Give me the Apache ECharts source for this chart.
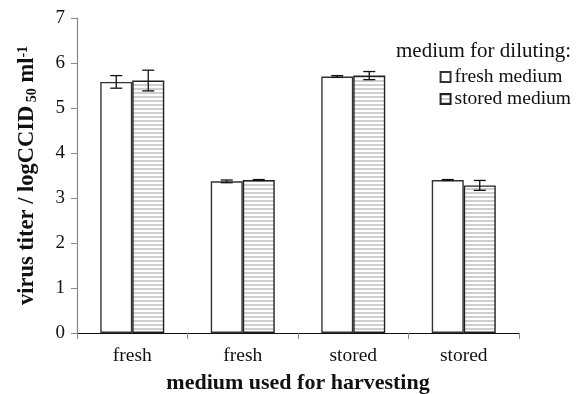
<!DOCTYPE html>
<html>
<head>
<meta charset="utf-8">
<script src="https://cdn.jsdelivr.net/npm/echarts@6/dist/echarts.min.js"></script>
<style>
  html, body { margin: 0; padding: 0; background: #fff; }
  #chart { width: 583px; height: 394px; }
</style>
</head>
<body>
<div id="chart"></div>
<script>
// Harvest medium groups and mean titers (log CCID50 / ml) with error-bar half-widths
const categories = ['fresh', 'fresh', 'stored', 'stored'];
const freshMedium = [5.58, 3.37, 5.70, 3.40];
const freshMediumErr = [0.14, 0.03, 0.02, 0.01];
const storedMedium = [5.61, 3.40, 5.72, 3.28];
const storedMediumErr = [0.23, 0.01, 0.09, 0.11];
const yTicks = [0, 1, 2, 3, 4, 5, 6, 7];

const FONT = "'Liberation Serif', 'Times New Roman', serif";
const BAR_W = 32;

// horizontal grey/white stripe fill for the stored-medium bars
const stripe = document.createElement('canvas');
stripe.width = 4; stripe.height = 4;
const sctx = stripe.getContext('2d');
sctx.fillStyle = '#ffffff'; sctx.fillRect(0, 0, 4, 4);
sctx.fillStyle = '#cfcfcf'; sctx.fillRect(0, 0, 4, 2);

function errorSeries(means, errs, side) {
  return {
    type: 'custom',
    silent: true,
    z: 5,
    data: means.map((m, i) => [i, m, errs[i]]),
    renderItem: function (params, api) {
      const i = api.value(0), m = api.value(1), e = api.value(2);
      const hi = api.coord([i, m + e]);
      const lo = api.coord([i, m - e]);
      const x = hi[0] + side * BAR_W / 2;
      const cap = 6;
      const style = { stroke: '#111', lineWidth: 1.3 };
      return {
        type: 'group',
        children: [
          { type: 'line', shape: { x1: x, y1: hi[1], x2: x, y2: lo[1] }, style },
          { type: 'line', shape: { x1: x - cap, y1: hi[1], x2: x + cap, y2: hi[1] }, style },
          { type: 'line', shape: { x1: x - cap, y1: lo[1], x2: x + cap, y2: lo[1] }, style }
        ]
      };
    }
  };
}

const chart = echarts.init(document.getElementById('chart'), null, { renderer: 'canvas' });
chart.setOption({
  animation: false,
  backgroundColor: '#fff',
  title: {
    text: 'medium for diluting:',
    right: 7,
    top: 36,
    textStyle: { fontFamily: FONT, fontSize: 21, fontWeight: 'normal', color: '#111' }
  },
  legend: {
    orient: 'vertical',
    right: 7,
    top: 62,
    itemWidth: 10,
    itemHeight: 10,
    itemGap: 2,
    icon: 'rect',
    textStyle: { fontFamily: FONT, fontSize: 19.5, color: '#111', padding: [0, 0, 0, -1] },
    data: ['fresh medium', 'stored medium']
  },
  grid: { left: 77, right: 64, top: 18, bottom: 61, outerBoundsMode: 'none' },
  xAxis: {
    type: 'category',
    data: categories,
    name: 'medium used for harvesting',
    nameLocation: 'middle',
    nameGap: 39,
    nameTextStyle: { fontFamily: FONT, fontSize: 22, fontWeight: 'bold', color: '#111' },
    axisLine: { lineStyle: { color: '#111', width: 1 } },
    axisTick: { show: true, length: 6, lineStyle: { color: '#888' } },
    axisLabel: { fontFamily: FONT, fontSize: 19.5, color: '#111', margin: 13 }
  },
  yAxis: {
    type: 'value',
    min: yTicks[0],
    max: yTicks[yTicks.length - 1],
    interval: 1,
    name: '{a|virus titer / logCCID}{s| 50}{a| ml}{p|-1}',
    nameLocation: 'middle',
    nameRotate: 90,
    nameGap: 38,
    nameTextStyle: {
      fontFamily: FONT, fontWeight: 'bold', color: '#111',
      rich: {
        a: { fontFamily: FONT, fontSize: 22.5, fontWeight: 'bold', color: '#111' },
        s: { fontFamily: FONT, fontSize: 14, fontWeight: 'bold', color: '#111', verticalAlign: 'bottom', padding: [7, 0, 0, 0] },
        p: { fontFamily: FONT, fontSize: 14, fontWeight: 'bold', color: '#111', verticalAlign: 'top', padding: [0, 0, 9, 0] }
      }
    },
    splitLine: { show: false },
    axisLine: { show: true, lineStyle: { color: '#888', width: 1.2 } },
    axisTick: { show: true, length: 6, lineStyle: { color: '#888' } },
    axisLabel: { fontFamily: FONT, fontSize: 19, color: '#111', margin: 12 }
  },
  series: [
    {
      name: 'fresh medium',
      type: 'bar',
      barWidth: BAR_W,
      barGap: '0%',
      data: freshMedium,
      itemStyle: { color: '#ffffff', borderColor: '#333', borderWidth: 1.4 }
    },
    {
      name: 'stored medium',
      type: 'bar',
      barWidth: BAR_W,
      barGap: '0%',
      data: storedMedium,
      itemStyle: { color: { image: stripe, repeat: 'repeat' }, borderColor: '#222', borderWidth: 1.4 }
    },
    errorSeries(freshMedium, freshMediumErr, -1),
    errorSeries(storedMedium, storedMediumErr, 1)
  ]
});
</script>
</body>
</html>
